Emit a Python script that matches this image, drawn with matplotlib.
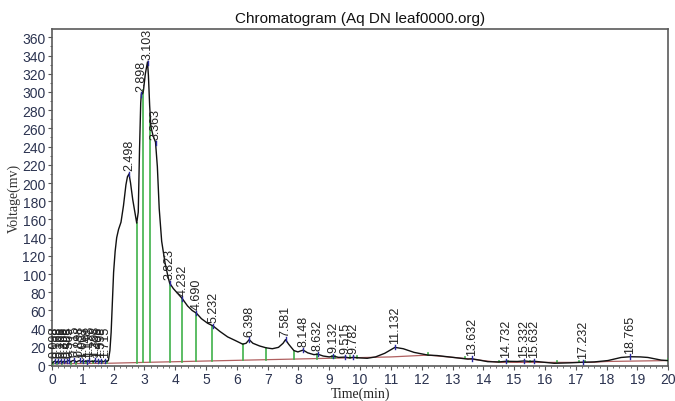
import numpy as np
import matplotlib
matplotlib.use("Agg")
import matplotlib.pyplot as plt
from matplotlib.ticker import MultipleLocator

plt.rcParams['font.family'] = ['Liberation Sans', 'DejaVu Sans']

title = "Chromatogram (Aq DN leaf0000.org)"
x_label = "Time(min)"
y_label = "Voltage(mv)"

# detector trace (min, mV)
time_min = [0.00, 0.05, 0.10, 0.15, 0.20, 0.25, 0.30, 0.35, 0.40, 0.45, 0.50, 0.56,
            0.61, 0.66, 0.72, 0.80, 0.85, 0.90, 0.95, 1.00, 1.05, 1.10, 1.15, 1.20,
            1.25, 1.30, 1.35, 1.40, 1.45, 1.50, 1.55, 1.60, 1.66, 1.72, 1.78, 1.83,
            1.88, 1.92, 1.96, 2.00, 2.05, 2.10, 2.16, 2.24, 2.32, 2.40, 2.45, 2.50,
            2.55, 2.62, 2.70, 2.75, 2.80, 2.84, 2.88, 2.90, 2.94, 2.97, 3.03, 3.10,
            3.13, 3.17, 3.21, 3.28, 3.36, 3.42, 3.48, 3.56, 3.67, 3.78, 3.82, 3.94,
            4.10, 4.23, 4.40, 4.55, 4.69, 4.85, 5.05, 5.23, 5.45, 5.70, 5.95, 6.19,
            6.30, 6.40, 6.52, 6.74, 6.95, 7.15, 7.35, 7.50, 7.58, 7.68, 7.85, 7.98,
            8.15, 8.30, 8.50, 8.63, 8.80, 9.00, 9.13, 9.30, 9.52, 9.65, 9.78, 9.95,
            10.23, 10.50, 10.80, 11.13, 11.40, 11.75, 12.20, 12.50, 13.00, 13.50,
            13.63, 14.14, 14.50, 14.73, 15.10, 15.33, 15.50, 15.63, 16.00, 16.30,
            16.80, 17.23, 17.60, 18.04, 18.47, 18.77, 19.10, 19.34, 19.77, 20.00]
voltage_mv = [2.0, 3.5, 4.5, 3.0, 4.5, 3.2, 4.8, 3.0, 4.5, 3.2, 4.6, 5.0,
              3.5, 4.8, 5.2, 3.4, 4.5, 5.0, 3.6, 4.8, 3.8, 4.6, 3.5, 5.0,
              3.8, 4.5, 3.6, 5.2, 3.8, 4.6, 3.5, 4.8, 3.6, 4.8, 4.0, 5.0,
              16.0, 36.0, 70.0, 102.0, 125.0, 140.0, 149.0, 157.0, 175.0, 198.0, 207.0, 210.0,
              200.0, 182.0, 166.0, 156.0, 168.0, 235.0, 288.0, 298.0, 298.0, 302.0, 320.0, 333.0,
              318.0, 285.0, 262.0, 252.0, 245.0, 218.0, 172.0, 136.0, 112.0, 95.0, 90.0, 84.0,
              78.0, 73.0, 65.0, 60.0, 57.0, 51.0, 46.0, 43.0, 37.0, 31.0, 27.0, 23.0,
              24.0, 28.0, 24.0, 21.0, 19.0, 18.0, 19.5, 24.0, 28.0, 23.0, 16.0, 14.5,
              16.5, 13.5, 11.5, 12.0, 10.0, 9.0, 10.0, 8.5, 8.8, 8.0, 8.6, 8.0,
              7.5, 9.0, 13.0, 19.5, 18.0, 14.0, 11.0, 10.5, 8.5, 6.6,
              7.0, 3.8, 3.5, 4.2, 4.0, 4.6, 4.0, 4.3, 3.0, 2.0,
              2.5, 3.2, 3.5, 5.0, 8.4, 9.2, 9.0, 8.4, 5.5, 5.0]

# integrated peaks: retention time labels
peak_labels = ["0.098", "0.198", "0.298", "0.398", "0.498", "0.565", "0.715",
               "0.898", "1.003", "1.148", "1.198", "1.398", "1.498", "1.598", "1.715",
               "2.498", "2.898", "3.103", "3.363", "3.823", "4.232", "4.690", "5.232",
               "6.398", "7.581", "8.148", "8.632", "9.132", "9.515", "9.782", "11.132",
               "13.632", "14.732", "15.332", "15.632", "17.232", "18.765"]

# peak start / end markers (min)
boundary_times = [0.03, 0.17, 0.33, 0.62, 0.78, 1.02, 1.12, 1.32, 1.52, 1.62, 1.80,
                  2.75, 2.97, 3.19, 3.82, 4.23, 4.66, 5.20, 6.19, 6.95, 7.85,
                  8.59, 9.09, 9.20, 9.66, 9.89, 12.20, 13.40, 14.50, 14.80,
                  15.50, 16.40, 17.10, 17.30, 20.00]

# drawn baseline (min, mV)
baseline_time = [0.0, 1.80, 3.00, 11.00, 12.20, 13.50, 14.50, 17.50, 18.00, 20.00]
baseline_mv = [1.5, 2.0, 3.0, 9.0, 11.0, 7.0, 3.0, 3.0, 4.0, 5.0]

fig = plt.figure(figsize=(6.75, 4.02), dpi=100)
ax = fig.add_axes([0.077, 0.087, 0.913, 0.838])

tick_color = "#2b3350"

t = np.asarray(time_min)
v = np.asarray(voltage_mv)

ax.plot(baseline_time, baseline_mv, color="#b06060", lw=0.9, zorder=2)

for bt in boundary_times:
    y0 = np.interp(bt, baseline_time, baseline_mv)
    y1 = np.interp(bt, t, v)
    ax.plot([bt, bt], [y0, max(y1, y0 + 2.0)], color="#3fb24a", lw=1.2, zorder=3)

ax.plot(t, v, color="#111111", lw=1.0, zorder=4)

for lab in peak_labels:
    pt = float(lab)
    py = np.interp(pt, t, v)
    ax.plot([pt, pt], [py - 2.0, py + 2.5], color="#2a2aa0", lw=1.0, zorder=5)
    ax.annotate(lab, (pt, py), xytext=(0, 3), textcoords="offset points",
                rotation=90, ha="center", va="bottom", fontsize=9,
                color="#222222", zorder=6)

ax.set_xlim(0, 20)
ax.set_ylim(-1, 369)
ax.xaxis.set_major_locator(MultipleLocator(1))
ax.xaxis.set_minor_locator(MultipleLocator(0.2))
ax.yaxis.set_major_locator(MultipleLocator(20))
ax.yaxis.set_minor_locator(MultipleLocator(10))
ax.tick_params(axis="both", which="major", length=3, width=0.8,
               labelsize=10, colors="#555555", labelcolor=tick_color, pad=1.5)
ax.tick_params(axis="both", which="minor", length=1.5, width=0.6, colors="#555555")

for s in ax.spines.values():
    s.set_color("#5a5a5a")
    s.set_linewidth(1.2)

ax.set_title(title, fontsize=11, color="#111111", pad=5)
ax.set_xlabel(x_label, fontsize=10, family=["Liberation Serif", "DejaVu Serif"],
              color="#222222", labelpad=0)
ax.set_ylabel(y_label, fontsize=10, family=["Liberation Serif", "DejaVu Serif"],
              color="#333333", labelpad=1)

fig.savefig("out.png", dpi=100)
